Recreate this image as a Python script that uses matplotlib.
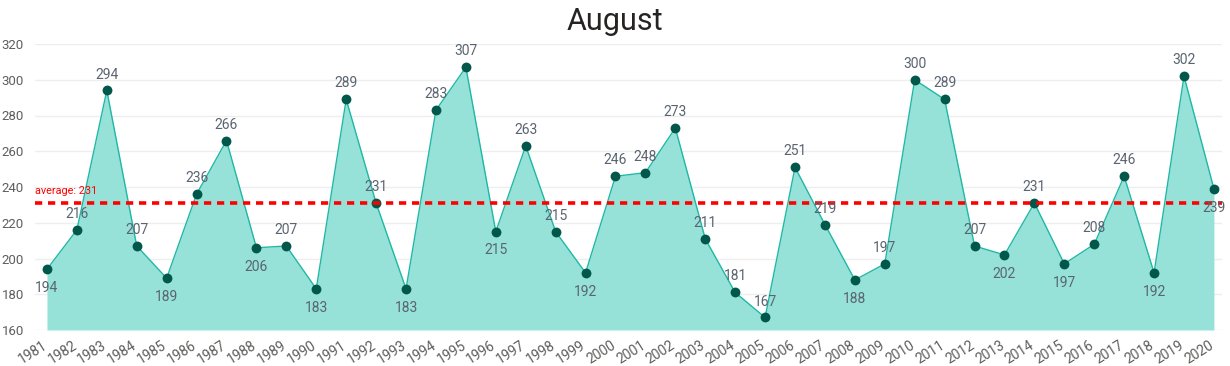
import matplotlib
matplotlib.use("Agg")
import matplotlib.pyplot as plt
import matplotlib.transforms as mtransforms

years = list(range(1981, 2021))
values = [194, 216, 294, 207, 189, 236, 266, 206, 207, 183,
          289, 231, 183, 283, 307, 215, 263, 215, 192, 246,
          248, 273, 211, 181, 167, 251, 219, 188, 197, 300,
          289, 207, 202, 231, 197, 208, 246, 192, 302, 239]
# label placement: 1 above, -1 below
label_pos = [-1, 1, 1, 1, -1, 1, 1, -1, 1, -1,
             1, 1, -1, 1, 1, -1, 1, 1, -1, 1,
             1, 1, 1, 1, 1, 1, 1, -1, 1, 1,
             1, 1, -1, 1, -1, 1, 1, -1, 1, -1]
average = 231
yticks = [160, 180, 200, 220, 240, 260, 280, 300, 320]

plt.rcParams['font.family'] = ['Roboto', 'DejaVu Sans']

fig = plt.figure(figsize=(12.30, 3.66), dpi=100)
ax = fig.add_axes([35/1230, 1-330/366, (1222-35)/1230, (330-44)/366])

x = list(range(len(years)))
ax.fill_between(x, values, 160, color='#96E2D9', linewidth=0, zorder=1)
ax.plot(x, values, color='#1FB8A6', lw=1, zorder=2)
ax.scatter(x, values, s=50, color='#01574A', zorder=3, linewidths=0)

ax.axhline(average, color='#FF0000', lw=2.6, ls=(0, (2, 1.6)), zorder=4)
ax.annotate('average: 231', xy=(0, average), xycoords=('axes fraction', 'data'),
            xytext=(0, 5), textcoords='offset points', color='#FF0000', fontsize=7.8,
            ha='left', va='bottom')

for xi, v, p in zip(x, values, label_pos):
    off = 11.5 if p > 0 else -13.5
    ax.annotate(str(v), xy=(xi, v), xytext=(0, off), textcoords='offset points',
                ha='center', va='center', fontsize=10, color='#5A6470', zorder=5)

ax.set_xlim(-0.4, len(years) - 1 + 0.27)
ax.set_ylim(160, 320)
ax.set_yticks(yticks)
ax.set_yticklabels([str(t) for t in yticks])
ax.grid(axis='y', color='#EEEEEE', lw=1)
ax.set_axisbelow(True)
for s in ax.spines.values():
    s.set_visible(False)
ax.tick_params(axis='both', length=0, labelcolor='#605E5C')
ax.tick_params(axis='y', pad=8, labelsize=9.5)

ax.set_xticks(x)
ax.set_xticklabels([str(y) for y in years], rotation=32, ha='right', rotation_mode='anchor',
                   fontsize=10)
ax.tick_params(axis='x', pad=6)
offset = mtransforms.ScaledTranslation(-5/100, 0, fig.dpi_scale_trans)
for lab in ax.get_xticklabels():
    lab.set_transform(lab.get_transform() + offset)

fig.text(0.5, 1 - 21/366, 'August', ha='center', va='center', fontsize=22, color='#252423')

fig.savefig('out.png', dpi=100)
